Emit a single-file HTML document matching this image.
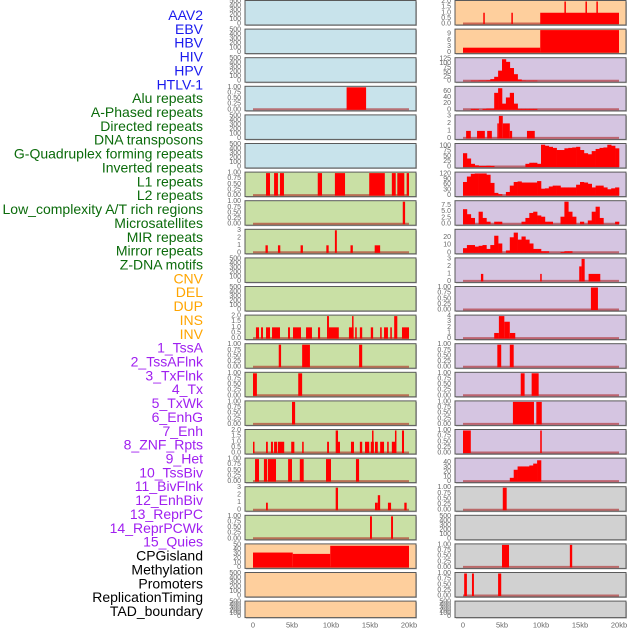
<!DOCTYPE html>
<html><head><meta charset="utf-8">
<style>
html,body{margin:0;padding:0;background:#fff;}
svg{display:block;}
</style></head>
<body>
<svg id="chart" width="630" height="630" xmlns="http://www.w3.org/2000/svg" font-family="Liberation Sans, sans-serif"></svg>
<script>
// ---------- data ----------
const trackLabels = ["AAV2","EBV","HBV","HIV","HPV","HTLV-1","Alu repeats","A-Phased repeats","Directed repeats","DNA transposons","G-Quadruplex forming repeats","Inverted repeats","L1 repeats","L2 repeats","Low_complexity A/T rich regions","Microsatellites","MIR repeats","Mirror repeats","Z-DNA motifs","CNV","DEL","DUP","INS","INV","1_TssA","2_TssAFlnk","3_TxFlnk","4_Tx","5_TxWk","6_EnhG","7_Enh","8_ZNF_Rpts","9_Het","10_TssBiv","11_BivFlnk","12_EnhBiv","13_ReprPC","14_ReprPCWk","15_Quies","CPGisland","Methylation","Promoters","ReplicationTiming","TAD_boundary"];
const labelGroups = ["virus","virus","virus","virus","virus","virus","repeat","repeat","repeat","repeat","repeat","repeat","repeat","repeat","repeat","repeat","repeat","repeat","repeat","sv","sv","sv","sv","sv","chrom","chrom","chrom","chrom","chrom","chrom","chrom","chrom","chrom","chrom","chrom","chrom","chrom","chrom","chrom","other","other","other","other","other"];
const xTickValues = [0,5000,10000,15000,20000];
const xTickLabels = ["0","5kb","10kb","15kb","20kb"];

const t500 = [0,100,200,300,400,500], t500L = ["0","100","200","300","400","500"];
const t1 = [0,0.25,0.5,0.75,1], t1L = ["0.00","0.25","0.50","0.75","1.00"];
const t2 = [0,0.5,1,1.5,2], t2L = ["0.0","0.5","1.0","1.5","2.0"];
const t3 = [0,1,2,3], t3L = ["0","1","2","3"];

// segments: [startKb, endKb, value]
const L4_segs = [[12.0,14.5,1]];
const L7_segs = [[1.67,2.18,1],[2.7,3.2,1],[3.46,3.97,1],[8.3,8.85,1],[10.5,11.8,1],[14.9,16.9,1],[17.8,18.3,1],[18.5,19.4,1],[19.7,20.0,1]];
const L8_segs = [[19.2,19.5,1]];
const L9_segs = [[1.6,1.9,1],[3.2,3.5,1],[6.1,6.4,1],[9.4,9.7,1],[10.5,10.75,3],[12.5,12.8,1],[15.6,16.3,1]];
const L12_segs = [[0.38,0.77,1],[1.03,1.28,1],[1.67,2.18,1],[2.44,3.46,1],[4.49,4.74,1],[5.13,6.15,1],[6.8,7.56,1],[8.33,8.6,1],[9.49,9.74,2],[9.74,11.0,1],[12.3,12.9,1],[12.7,12.8,2],[13.1,13.3,1],[13.7,14.0,1],[15.1,15.4,1],[16.3,16.5,1],[16.8,17.3,1],[17.6,17.8,1],[18.1,18.5,2],[19.1,20.0,1]];
const L13_segs = [[3.3,3.6,1],[6.3,7.3,1],[13.6,14.0,1]];
const L14_segs = [[0,0.5,1],[5.8,6.3,1]];
const L15_segs = [[5.0,5.4,1]];
const L16_segs = [[0,0.15,1],[1.67,1.9,1],[2.3,2.56,1],[2.7,3.1,1],[3.2,4.0,1],[4.9,5.3,1],[6.3,6.5,1],[9.5,9.74,1],[10.6,10.9,2],[10.9,11.15,1],[12.56,12.95,1],[13.7,14.0,1],[14.36,14.9,1],[15.1,15.5,1],[15.26,15.4,2],[15.64,16.0,1],[16.3,16.8,1],[17.2,17.4,1],[17.8,18.3,1],[18.2,18.3,2],[19.1,19.36,2]];
const L17_segs = [[0.26,0.77,1],[1.4,1.8,1],[1.9,2.95,1],[4.5,5.0,1],[6.0,6.5,1],[9.36,10.0,1],[13.2,13.6,1]];
const L18_segs = [[1.67,1.9,1],[10.6,10.9,3],[15.64,16.0,1],[16.0,16.3,2],[17.3,17.7,1],[19.4,19.7,1]];
const L19_segs = [[15.0,15.25,1],[17.7,17.95,1]];
const L20_segs = [[0,5.1,33],[5.1,9.9,30],[9.9,20.0,48]];

const R1_segs = [[2.6,2.75,1],[6.2,6.35,1],[9.9,20.0,1],[13.0,13.15,2],[15.7,15.85,2],[17.1,17.25,2]];
const R2_segs = [[0,9.9,2.4],[9.9,20,11]];
const R5_segs = [[0.4,1.0,1],[1.8,2.8,1],[3.1,3.7,1],[4.4,4.6,2],[4.6,5.1,3],[5.1,6.0,2],[6.0,6.3,1],[8.2,9.2,1]];
const R10_segs = [[2.3,2.6,1],[9.9,10.0,1],[14.9,15.2,2],[15.2,15.6,3],[16.1,17.6,1]];
const R11_segs = [[16.4,17.3,1]];
const R12_segs = [[4.0,4.6,1],[4.6,5.3,4],[5.3,6.0,3],[6.0,6.7,1]];
const R13_segs = [[4.4,4.9,1],[6.0,6.5,1]];
const R14_segs = [[7.4,7.9,1],[8.8,9.7,1]];
const R15_segs = [[6.4,9.1,1],[9.4,10.1,1]];
const R16_segs = [[0,1.0,1],[9.9,10.1,1]];
const R18_segs = [[5.1,5.6,1]];
const R20_segs = [[5.0,5.9,1],[13.7,14.0,1]];
const R21_segs = [[0.15,0.5,1],[1.15,1.4,1],[4.5,4.9,1]];

// histograms: 0.5 kb bins, 0..20 kb
const R3_hist = [0,0,3,3,4,4,5,12,25,60,125,110,75,40,10,4,3,3,3,0,0,0,0,0,0,0,0,0,0,0,0,0,0,0,0,0,0,0,0,0];
const R4_hist = [0,0,3,3,0,3,4,4,55,70,20,40,55,20,3,3,3,3,3,0,0,0,0,0,0,0,0,0,0,0,0,0,0,0,0,0,0,0,0,0];
const R6_hist = [65,40,15,8,5,5,6,5,0,0,0,0,0,0,0,0,15,20,20,15,105,100,95,90,80,80,88,90,92,95,80,65,60,75,85,90,92,105,100,88];
const R7_hist = [75,105,120,122,122,122,115,70,15,8,0,20,55,75,78,72,72,72,72,80,38,40,50,55,55,45,45,45,45,60,75,72,65,45,55,55,45,35,40,45];
const R8_hist = [6,4,2.5,0,5,2.5,1,0,1,1,0,0,0,0,0,1,2.5,4.5,5,3.5,3,1,1,0,0,3,9,5,3,0,1,0,1.5,5,7,2.5,0,0,0,1];
const R9_hist = [6,10,10,8,9,10,5,10,22,12,0,3,20,26,17,21,17,12,5,5,2,2,0,0,0,1,2,2,0,0,0,0,0,0,0,0,0,0,0,0];
const R17_hist = [0,0,0,0,0,0,0,0,0,0,0,0,8,25,32,32,32,34,38,45,0,0,0,0,0,0,0,0,0,0,0,0,0,0,0,0,0,0,0,0];

const BG = {blue:"#c8e3eb", green:"#c9e0a5", peach:"#fecf9d", purple:"#d5c5e1", gray:"#d1d1d1"};
const leftPanels = [
 {n:"aav2",bg:"blue",ymax:500,ticks:t500,tl:t500L},
 {n:"ebv",bg:"blue",ymax:500,ticks:t500,tl:t500L},
 {n:"hbv",bg:"blue",ymax:500,ticks:t500,tl:t500L},
 {n:"hiv",bg:"blue",ymax:1,ticks:t1,tl:t1L,segs:L4_segs},
 {n:"hpv",bg:"blue",ymax:500,ticks:t500,tl:t500L},
 {n:"htlv",bg:"blue",ymax:500,ticks:t500,tl:t500L},
 {n:"alu",bg:"green",ymax:1,ticks:t1,tl:t1L,segs:L7_segs},
 {n:"a-phased",bg:"green",ymax:1,ticks:t1,tl:t1L,segs:L8_segs},
 {n:"directed",bg:"green",ymax:3,ticks:t3,tl:t3L,segs:L9_segs},
 {n:"dna-transposons",bg:"green",ymax:500,ticks:t500,tl:t500L},
 {n:"g-quadruplex",bg:"green",ymax:500,ticks:t500,tl:t500L},
 {n:"inverted",bg:"green",ymax:2,ticks:t2,tl:t2L,segs:L12_segs},
 {n:"l1",bg:"green",ymax:1,ticks:t1,tl:t1L,segs:L13_segs},
 {n:"l2",bg:"green",ymax:1,ticks:t1,tl:t1L,segs:L14_segs},
 {n:"low-complexity",bg:"green",ymax:1,ticks:t1,tl:t1L,segs:L15_segs},
 {n:"microsatellites",bg:"green",ymax:2,ticks:t2,tl:t2L,segs:L16_segs},
 {n:"mir",bg:"green",ymax:1,ticks:t1,tl:t1L,segs:L17_segs},
 {n:"mirror",bg:"green",ymax:3,ticks:t3,tl:t3L,segs:L18_segs},
 {n:"z-dna",bg:"green",ymax:1,ticks:t1,tl:t1L,segs:L19_segs},
 {n:"cpg",bg:"peach",ymax:50,ticks:[0,10,20,30,40,50],tl:["0","10","20","30","40","50"],segs:L20_segs},
 {n:"promoters",bg:"peach",ymax:500,ticks:t500,tl:t500L},
 {n:"tad",bg:"peach",ymax:500,ticks:t500,tl:t500L}
];
const rightPanels = [
 {n:"methylation",bg:"peach",ymax:2,ticks:t2,tl:t2L,segs:R1_segs},
 {n:"replication",bg:"peach",ymax:11,ticks:[0,3,6,9],tl:["0","3","6","9"],segs:R2_segs},
 {n:"cnv",bg:"purple",ymax:128,ticks:[0,25,50,75,100,125],tl:["0","25","50","75","100","125"],hist:R3_hist},
 {n:"del",bg:"purple",ymax:73,ticks:[0,20,40,60],tl:["0","20","40","60"],hist:R4_hist},
 {n:"dup",bg:"purple",ymax:3,ticks:t3,tl:t3L,segs:R5_segs},
 {n:"ins",bg:"purple",ymax:106,ticks:[0,25,50,75,100],tl:["0","25","50","75","100"],hist:R6_hist},
 {n:"inv",bg:"purple",ymax:124,ticks:[0,30,60,90,120],tl:["0","30","60","90","120"],hist:R7_hist},
 {n:"tssa",bg:"purple",ymax:9,ticks:[0,2.5,5,7.5],tl:["0.0","2.5","5.0","7.5"],hist:R8_hist},
 {n:"tssaflnk",bg:"purple",ymax:29,ticks:[0,10,20],tl:["0","10","20"],hist:R9_hist},
 {n:"txflnk",bg:"purple",ymax:3,ticks:t3,tl:t3L,segs:R10_segs},
 {n:"tx",bg:"purple",ymax:1,ticks:t1,tl:t1L,segs:R11_segs},
 {n:"txwk",bg:"purple",ymax:4,ticks:[0,1,2,3,4],tl:["0","1","2","3","4"],segs:R12_segs},
 {n:"enhg",bg:"purple",ymax:1,ticks:t1,tl:t1L,segs:R13_segs},
 {n:"enh",bg:"purple",ymax:1,ticks:t1,tl:t1L,segs:R14_segs},
 {n:"znf",bg:"purple",ymax:1,ticks:t1,tl:t1L,segs:R15_segs},
 {n:"het",bg:"purple",ymax:1,ticks:t1,tl:t1L,segs:R16_segs},
 {n:"tssbiv",bg:"purple",ymax:47.5,ticks:[0,10,20,30,40],tl:["0","10","20","30","40"],hist:R17_hist},
 {n:"bivflnk",bg:"gray",ymax:1,ticks:t1,tl:t1L,segs:R18_segs},
 {n:"enhbiv",bg:"gray",ymax:500,ticks:t500,tl:t500L},
 {n:"reprpc",bg:"gray",ymax:1,ticks:t1,tl:t1L,segs:R20_segs},
 {n:"reprpcwk",bg:"gray",ymax:1,ticks:t1,tl:t1L,segs:R21_segs},
 {n:"quies",bg:"gray",ymax:500,ticks:t500,tl:t500L}
];

// ---------- drawing ----------
const NS = "http://www.w3.org/2000/svg";
const svg = document.getElementById("chart");
function mk(tag, attrs, parent){
  const e = document.createElementNS(NS, tag);
  for (const k in attrs) e.setAttribute(k, attrs[k]);
  (parent||svg).appendChild(e);
  return e;
}
const COLORS = {virus:"#1a1aee", repeat:"#0b6b0b", sv:"#ffa500", chrom:"#a020f0", other:"#000"};

trackLabels.forEach((t,i)=>{
  const e = mk("text",{x:203,y:15+i*13.86,"text-anchor":"end","dominant-baseline":"central","font-size":"14",fill:COLORS[labelGroups[i]]});
  e.textContent = t;
  
  
});

function drawColumn(panels, px0, px1, kb0x, kb20x, side){
  const xs = kb => kb0x + (kb20x-kb0x)*kb/20;
  panels.forEach((p,i)=>{
    const top = 0.5 + i*28.6;
    const h = (i===21) ? 16.5 : 24.5;
    const bot = top + h;
    const ys = v => (bot-1) - (v/p.ymax)*(h-2);
    const g = mk("g",{});
    
    
    mk("rect",{x:px0+1,y:top+1,width:px1-px0,height:h,fill:"#bbb"},g);
    const bg = mk("rect",{x:px0,y:top,width:px1-px0,height:h,fill:BG[p.bg],stroke:"#5a5a5a","stroke-width":"1"},g);
    
    
    p.ticks.forEach((v,k)=>{
      const tx = mk("text",{x:px0-4,y:ys(v),"text-anchor":"end","dominant-baseline":"central","font-size":"7",fill:"#666"},g);
      tx.textContent = p.tl[k];
      
      
    });
    const hasData = p.segs || p.hist;
    if (hasData){
      const bl = mk("line",{x1:xs(0),x2:xs(20),y1:bot-1.5,y2:bot-1.5,stroke:"rgba(170,20,20,0.55)","stroke-width":"2"},g);
      
      
    }
    if (p.segs){
      p.segs.forEach(s=>{
        const y = ys(s[2]);
        const r = mk("rect",{x:xs(s[0]),y:y,width:Math.max(1.5,xs(s[1])-xs(s[0])),height:(bot-1)-y,fill:"#ff0000"},g);
        
        
      });
    }
    if (p.hist){
      p.hist.forEach((v,k)=>{
        if (v<=0) return;
        const y = ys(v);
        const r = mk("rect",{x:xs(k*0.5),y:y,width:xs(0.5)-xs(0)+0.3,height:(bot-1)-y,fill:"#ff0000"},g);
        
        
      });
    }
  });
  xTickValues.forEach((v,k)=>{
    const tx = mk("text",{x:xs(v/1000),y:625,"text-anchor":"middle","dominant-baseline":"central","font-size":"7.5",fill:"#666"});
    tx.textContent = xTickLabels[k];
    
    
  });
}
drawColumn(leftPanels, 245, 416, 253, 409, "left");
drawColumn(rightPanels, 455, 626, 463, 619, "right");
</script>
</body></html>
